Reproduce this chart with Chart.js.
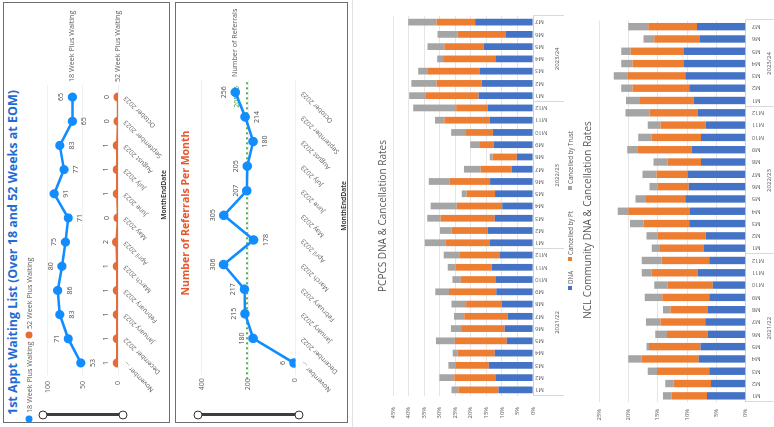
<!DOCTYPE html>
<html>
<head>
<meta charset="utf-8">
<script src="https://cdn.jsdelivr.net/npm/chart.js@4.4.1/dist/chart.umd.min.js"></script>
<style>
  html, body { margin: 0; padding: 0; width: 774px; height: 427px; overflow: hidden; background: #fff; }
  /* The slide is laid out upright (427 x 774) and turned a quarter turn to the left */
  #page { position: absolute; left: 0; top: 0; width: 427px; height: 774px; background: #fff;
          transform-origin: 0 0; transform: translateY(427px) rotate(-90deg);
          font-family: "Open Sans", sans-serif; }
  .panel { position: absolute; box-sizing: border-box; border: 1.5px solid #6e6e6e; background: #fff; }
  .txt { position: absolute; white-space: nowrap; line-height: 1; }
  canvas { position: absolute; }
  .knob { position: absolute; width: 9px; height: 9px; box-sizing: border-box; border: 1.6px solid #333;
          border-radius: 50%; background: #fff; transform: translate(-50%, -50%); }
  .bar { position: absolute; background: #3d3d3d; }
  .dot { position: absolute; border-radius: 50%; transform: translate(-50%, -50%); }
  .sq { position: absolute; transform: translate(-50%, -50%); }
</style>
</head>
<body>
<div id="page">
  <div class="panel" style="left:4px; top:3px; width:421px; height:167px;"></div>
  <div class="panel" style="left:4px; top:175px; width:421px; height:173px;"></div>
  <div style="position:absolute; left:0; top:352px; width:427px; height:1px; background:#e2e2e2;"></div>
  <canvas id="cWait" width="420" height="137" style="left:5px; top:30px;"></canvas>
  <canvas id="cRef" width="420" height="157" style="left:5px; top:190px;"></canvas>
  <canvas id="cPcpcs" width="427" height="187" style="left:0; top:388px;"></canvas>
  <canvas id="cNcl" width="427" height="181" style="left:0; top:593px;"></canvas>
</div>
<script>
// ---- Month-end periods shown on the two Power BI line charts ----
const months = ['November ...', 'December 2022', 'January 2023', 'February 2023', 'March 2023', 'April 2023',
                'May 2023', 'June 2023', 'July 2023', 'August 2023', 'September 2023', 'October 2023'];
const waiting18 = [53, 71, 83, 86, 80, 75, 71, 91, 77, 83, 65, 65];
const waiting52 = [1, 1, 1, 1, 1, 2, 0, 1, 1, 1, 0, 0];
const waitTicks = [0, 50, 100];
const referrals = [6, 180, 215, 217, 306, 178, 305, 207, 205, 180, 214, 256];
const referralTicks = [0, 200, 400];

// ---- Financial years and month codes for the DNA / cancellation charts ----
const fiscalYears = ['2021/22', '2022/23', '2023/24'];
const monthsInYear = [12, 12, 7];
const rateTicks = ['0%', '5%', '10%', '15%', '20%', '25%', '30%', '35%', '40%', '45%'];

// PCPCS rates (%)
const pcpcsDNA   = [11.1, 12.1, 14.2, 12.3, 8.4, 9.1, 8.1, 10.0, 11.8, 12.1, 13.3, 10.8,
                    14.0, 14.5, 12.3, 9.9, 12.2, 13.8, 6.8, 5.2, 12.7, 12.9, 14.0, 14.5,
                    17.5, 16.5, 17.2, 12.1, 15.8, 8.7, 18.6];
const pcpcsPt    = [12.9, 13.2, 10.8, 11.9, 16.7, 14.0, 14.0, 11.5, 15.2, 11.1, 11.6, 12.7,
                    14.0, 11.6, 17.4, 14.6, 9.1, 13.1, 10.0, 7.8, 4.6, 8.9, 14.5, 10.2,
                    16.9, 14.5, 16.8, 16.8, 12.7, 15.5, 12.4];
const pcpcsTrust = [2.2, 4.8, 2.2, 1.6, 6.1, 3.3, 3.3, 4.7, 4.4, 2.7, 2.5, 5.2,
                    6.8, 3.8, 4.3, 8.4, 1.6, 6.6, 5.4, 0.9, 2.9, 4.5, 3.0, 13.8,
                    5.4, 8.1, 2.9, 1.9, 5.4, 6.5, 9.1];

// NCL Community rates (%)
const nclDNA   = [6.6, 5.9, 6.2, 8.0, 7.7, 6.5, 6.9, 6.5, 6.2, 5.6, 8.2, 6.2,
                  7.2, 6.8, 9.6, 9.5, 10.3, 9.7, 9.9, 7.6, 9.2, 7.6, 6.8, 8.2,
                  8.9, 9.6, 10.3, 10.5, 10.5, 7.8, 8.3];
const nclPt    = [6.0, 6.4, 8.9, 9.7, 8.8, 6.9, 7.6, 6.3, 8.0, 7.7, 7.8, 8.1,
                  7.4, 8.2, 7.8, 10.5, 6.7, 5.3, 5.3, 5.7, 9.3, 8.4, 7.7, 8.2,
                  9.1, 9.7, 9.9, 8.8, 9.1, 7.8, 8.3];
const nclTrust = [1.5, 1.4, 1.6, 2.3, 0.4, 2.0, 2.5, 1.3, 3.0, 2.3, 1.7, 3.4,
                  1.4, 1.9, 2.3, 1.8, 1.8, 1.4, 2.4, 2.4, 1.7, 2.3, 2.2, 4.1,
                  2.4, 1.9, 2.3, 1.9, 1.6, 1.8, 3.4];

// Category codes M1..Mn for each financial year, in order
const periodCodes = [];
monthsInYear.forEach(n => { for (let m = 1; m <= n; m++) periodCodes.push('M' + m); });

Chart.defaults.font.family = '"Open Sans", sans-serif';

// Fixed axis sizes so the plot areas sit exactly where the slide layout wants them
function fixWidth(w) {
  return s => { s.width = w; s.paddingTop = 0; s.paddingBottom = 0; };
}
function fixHeight(h) {
  return s => { s.height = h; s.paddingLeft = 0; s.paddingRight = 0; };
}

const page = document.getElementById('page');
function addText(text, x, y, font, color, align) {
  const d = document.createElement('div');
  d.className = 'txt';
  d.textContent = text;
  d.style.left = x + 'px';
  d.style.top = y + 'px';
  d.style.font = font;
  d.style.color = color;
  const ax = align === 'center' ? -50 : align === 'right' ? -100 : 0;
  d.style.transform = 'translate(' + ax + '%, -50%)';
  page.appendChild(d);
}
function addEl(cls, style) {
  const d = document.createElement('div');
  d.className = cls;
  Object.assign(d.style, style);
  page.appendChild(d);
}

// ---- Panel chrome: titles, legend, axis titles, range sliders ----
addText('1st Appt Waiting List (Over 18 and 52 Weeks at EOM)', 12, 12, 'bold 12.5px "Open Sans"', '#1f6bd3', 'left');
addEl('dot', { left: '8px', top: '29px', width: '7px', height: '7px', background: '#118DFF' });
addText('18 Week Plus Waiting', 14, 29, '7.2px "Open Sans"', '#605E5C', 'left');
addEl('dot', { left: '92px', top: '29px', width: '7px', height: '7px', background: '#E66C37' });
addText('52 Week Plus Waiting', 98, 29, '7.2px "Open Sans"', '#605E5C', 'left');
addText('MonthEndDate', 232, 163, '600 6.8px "Open Sans"', '#252423', 'center');
addEl('bar', { left: '10.5px', top: '43px', width: '3px', height: '80px' });
addEl('knob', { left: '12px', top: '43px' });
addEl('knob', { left: '12px', top: '123px' });

addText('Number of Referrals Per Month', 214, 185, 'bold 10.5px "Open Sans"', '#E8572C', 'center');
addText('MonthEndDate', 221, 343, '600 6.8px "Open Sans"', '#252423', 'center');
addEl('bar', { left: '10.5px', top: '198px', width: '3px', height: '101px' });
addEl('knob', { left: '12px', top: '198px' });
addEl('knob', { left: '12px', top: '299px' });

addText('PCPCS DNA & Cancellation Rates', 211, 382, '10px "Open Sans"', '#595959', 'center');
addEl('sq', { left: '139px', top: '570px', width: '4px', height: '4px', background: '#4472C4' });
addText('DNA', 143, 570, '6.2px "Open Sans"', '#595959', 'left');
addEl('sq', { left: '168px', top: '570px', width: '4px', height: '4px', background: '#ED7D31' });
addText('Cancelled by Pt', 172, 570, '6.2px "Open Sans"', '#595959', 'left');
addEl('sq', { left: '239px', top: '570px', width: '4px', height: '4px', background: '#A5A5A5' });
addText('Cancelled by Trust', 243, 570, '6.2px "Open Sans"', '#595959', 'left');
addText('NCL Community DNA & Cancellation Rates', 207, 587, '10px "Open Sans"', '#595959', 'center');

// ---- Plugins ----
// Value labels above / below each point of a line series
const pointValueLabels = {
  id: 'pointValueLabels',
  afterDatasetsDraw(chart) {
    const ctx = chart.ctx;
    chart.data.datasets.forEach((ds, i) => {
      if (!ds.labelSides) return;
      const meta = chart.getDatasetMeta(i);
      ctx.save();
      ctx.font = '7px "Open Sans"';
      ctx.fillStyle = '#4a4a4a';
      ctx.textAlign = 'center';
      ctx.textBaseline = 'middle';
      meta.data.forEach((pt, j) => {
        const dy = ds.labelSides[j] === 'below' ? 12 : -11;
        ctx.fillText(String(ds.data[j]), pt.x, pt.y + dy);
      });
      ctx.restore();
    });
  }
};
// Series name written after the last point of each line
const seriesEndNames = {
  id: 'seriesEndNames',
  afterDatasetsDraw(chart) {
    const ctx = chart.ctx;
    ctx.save();
    ctx.font = '7.2px "Open Sans"';
    ctx.fillStyle = '#605E5C';
    ctx.textAlign = 'left';
    ctx.textBaseline = 'middle';
    chart.data.datasets.forEach((ds, i) => {
      const pts = chart.getDatasetMeta(i).data;
      const last = pts[pts.length - 1];
      ctx.fillText(ds.label, chart.chartArea.right + 3, last.y);
    });
    ctx.restore();
  }
};
// Dotted average line with its value
const averageLine = {
  id: 'averageLine',
  beforeDatasetsDraw(chart) {
    const vals = chart.data.datasets[0].data;
    const mean = vals.reduce((a, b) => a + b, 0) / vals.length;
    const y = chart.scales.y.getPixelForValue(mean);
    const { left, right } = chart.chartArea;
    const ctx = chart.ctx;
    ctx.save();
    ctx.strokeStyle = '#55B050';
    ctx.lineWidth = 2;
    ctx.setLineDash([2, 3]);
    ctx.beginPath();
    ctx.moveTo(left - 4, y);
    ctx.lineTo(right - 2, y);
    ctx.stroke();
    ctx.setLineDash([]);
    ctx.font = '7px "Open Sans"';
    ctx.fillStyle = '#3f9e3f';
    ctx.textAlign = 'right';
    ctx.textBaseline = 'middle';
    ctx.fillText(mean.toFixed(2), right - 6, y - 10);
    ctx.restore();
  }
};
// Financial-year group labels and separators under the month codes
const yearGroups = {
  id: 'yearGroups',
  afterDraw(chart, args, opts) {
    const xs = chart.scales.x;
    const ctx = chart.ctx;
    const step = xs.getPixelForValue(1) - xs.getPixelForValue(0);
    const bottom = chart.chartArea.bottom;
    ctx.save();
    ctx.strokeStyle = '#d9d9d9';
    ctx.lineWidth = 1;
    ctx.font = '6px "Open Sans"';
    ctx.fillStyle = '#595959';
    ctx.textAlign = 'center';
    ctx.textBaseline = 'middle';
    let start = 0;
    const edges = [];
    fiscalYears.forEach((fy, g) => {
      const end = start + monthsInYear[g] - 1;
      const x0 = xs.getPixelForValue(start) - step / 2;
      const x1 = xs.getPixelForValue(end) + step / 2;
      if (g === 0) edges.push(x0);
      edges.push(x1);
      ctx.fillText(fy, (x0 + x1) / 2, bottom + opts.labelOffset);
      start = end + 1;
    });
    edges.forEach(x => {
      ctx.beginPath();
      ctx.moveTo(Math.round(x) + 0.5, bottom);
      ctx.lineTo(Math.round(x) + 0.5, bottom + opts.lineLength);
      ctx.stroke();
    });
    ctx.restore();
  }
};

// ---- Waiting list line chart ----
new Chart(document.getElementById('cWait'), {
  type: 'line',
  data: {
    labels: months,
    datasets: [
      { label: '18 Week Plus Waiting', data: waiting18, borderColor: '#118DFF', backgroundColor: '#118DFF',
        borderWidth: 2.6, pointRadius: 3.3, pointHoverRadius: 3.3, tension: 0,
        labelSides: ['below', 'above', 'below', 'below', 'above', 'above', 'below', 'below', 'below', 'below', 'below', 'above'] },
      { label: '52 Week Plus Waiting', data: waiting52, borderColor: '#E66C37', backgroundColor: '#E66C37',
        borderWidth: 2.6, pointRadius: 3.3, pointHoverRadius: 3.3, tension: 0,
        labelSides: months.map(() => 'above') }
    ]
  },
  options: {
    responsive: false, animation: false,
    layout: { autoPadding: false, padding: { left: 0, right: 83, top: 13, bottom: 0 } },
    plugins: { legend: { display: false }, tooltip: { enabled: false } },
    scales: {
      x: { offset: true, grid: { display: false, drawTicks: false }, border: { display: false },
           ticks: { autoSkip: false, minRotation: 45, maxRotation: 45, padding: 4, color: '#605E5C', font: { size: 6.6 } },
           afterFit: fixHeight(49) },
      y: { min: 0, max: 107,
           afterBuildTicks(s) { s.ticks = waitTicks.map(v => ({ value: v })); },
           grid: { color: '#f0f0f0', drawTicks: false }, border: { display: false },
           ticks: { padding: 6, color: '#605E5C', font: { size: 7 } },
           afterFit: fixWidth(47) }
    }
  },
  plugins: [pointValueLabels, seriesEndNames]
});

// ---- Referrals line chart ----
new Chart(document.getElementById('cRef'), {
  type: 'line',
  data: {
    labels: months,
    datasets: [
      { label: 'Number of Referrals', data: referrals, borderColor: '#118DFF', backgroundColor: '#118DFF',
        borderWidth: 2.6, pointRadius: 3.5, pointHoverRadius: 3.5, tension: 0,
        labelSides: ['above', 'above', 'above', 'above', 'above', 'below', 'above', 'above', 'above', 'below', 'below', 'above'] }
    ]
  },
  options: {
    responsive: false, animation: false,
    layout: { autoPadding: false, padding: { left: 0, right: 78, top: 8, bottom: 0 } },
    plugins: { legend: { display: false }, tooltip: { enabled: false } },
    scales: {
      x: { offset: true, grid: { display: false, drawTicks: false }, border: { display: false },
           ticks: { autoSkip: false, minRotation: 45, maxRotation: 45, padding: 4, color: '#605E5C', font: { size: 6.6 } },
           afterFit: fixHeight(51.6) },
      y: { min: 0, max: 415,
           afterBuildTicks(s) { s.ticks = referralTicks.map(v => ({ value: v })); },
           grid: { color: '#f0f0f0', drawTicks: false }, border: { display: false },
           ticks: { padding: 3, color: '#605E5C', font: { size: 7 } },
           afterFit: fixWidth(46.7) }
    }
  },
  plugins: [averageLine, pointValueLabels, seriesEndNames]
});

// ---- Stacked DNA / cancellation column charts ----
function rateChart(id, dna, pt, trust, cfg) {
  return new Chart(document.getElementById(id), {
    type: 'bar',
    data: {
      labels: periodCodes,
      datasets: [
        { label: 'DNA', data: dna, backgroundColor: '#4472C4' },
        { label: 'Cancelled by Pt', data: pt, backgroundColor: '#ED7D31' },
        { label: 'Cancelled by Trust', data: trust, backgroundColor: '#A5A5A5' }
      ].map(d => Object.assign(d, { barPercentage: cfg.barPct, categoryPercentage: 1, borderWidth: 0 }))
    },
    options: {
      responsive: false, animation: false,
      layout: { autoPadding: false, padding: { left: 0, right: cfg.padRight, top: cfg.padTop, bottom: 0 } },
      plugins: { legend: { display: false }, tooltip: { enabled: false },
                 yearGroups: { labelOffset: cfg.yearOffset, lineLength: cfg.sepLength } },
      scales: {
        x: { stacked: true, grid: { display: false, drawTicks: false },
             border: { display: true, color: '#d0d0d0', width: 1 },
             ticks: { autoSkip: false, minRotation: 90, maxRotation: 90, padding: cfg.codePad, color: '#595959', font: { size: 6 } },
             afterFit: fixHeight(cfg.xHeight) },
        y: { stacked: true, min: 0, max: cfg.max,
             afterBuildTicks(s) { s.ticks = rateTicks.map(t => ({ value: parseFloat(t) })).filter(t => t.value <= cfg.max); },
             grid: { color: '#dedede', lineWidth: 0.8, drawTicks: false }, border: { display: false },
             ticks: { padding: cfg.tickPad, color: '#595959', font: { size: 5.8 }, callback: v => v + '%' },
             afterFit: fixWidth(cfg.yWidth) }
      }
    },
    plugins: [yearGroups]
  });
}

rateChart('cPcpcs', pcpcsDNA, pcpcsPt, pcpcsTrust,
  { max: 45, barPct: 0.55, padRight: 16, padTop: 5, yWidth: 31, xHeight: 42, tickPad: 11, codePad: 2, yearOffset: 24, sepLength: 31 });
rateChart('cNcl', nclDNA, nclPt, nclTrust,
  { max: 25, barPct: 0.6, padRight: 20.5, padTop: 6, yWidth: 25, xHeight: 28.3, tickPad: 7, codePad: 6, yearOffset: 24, sepLength: 28 });
</script>
</body>
</html>
